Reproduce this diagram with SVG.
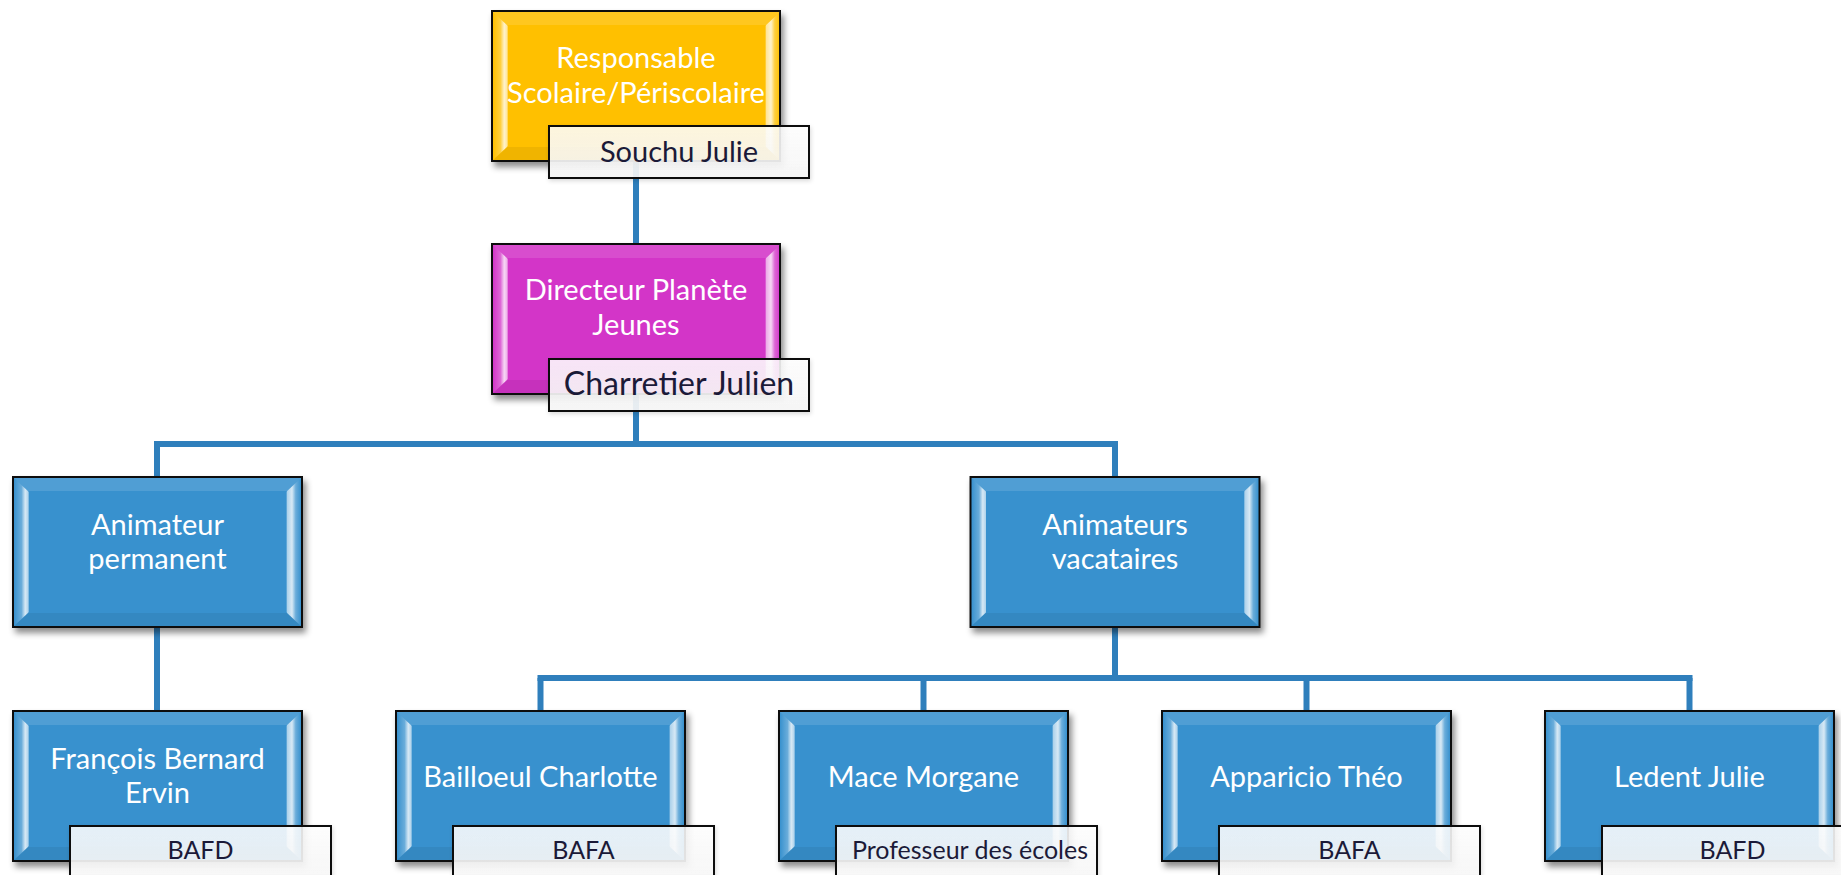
<svg xmlns="http://www.w3.org/2000/svg" width="1841" height="875" viewBox="0 0 1841 875">
<defs>
<style>
.box{stroke:#111;stroke-width:2}
.yel{fill:#FFC000}
.mag{fill:#D334C8}
.blu{fill:#3891CE}
.lbl{fill:url(#lblg);stroke:#111;stroke-width:2}
.t{font-family:Lato,"Open Sans","Liberation Sans",sans-serif;font-size:29px;fill:#fff;text-anchor:middle}
.lt{font-family:Lato,"Open Sans","Liberation Sans",sans-serif;font-size:29px;fill:#1B1A38;text-anchor:middle}
.st{font-family:Lato,"Open Sans","Liberation Sans",sans-serif;font-size:25px;fill:#1B1A38;text-anchor:middle}
.con{stroke:#2F7FBC;stroke-width:6;fill:none;stroke-linecap:butt}
.bl{fill:url(#bevL)}
.br{fill:url(#bevR)}
.bt{fill:#fff;fill-opacity:0.12}
.bb{fill:#000;fill-opacity:0.06}
</style>
<linearGradient id="bevL" x1="0" y1="0" x2="1" y2="0">
<stop offset="0" stop-color="#fff" stop-opacity="0"/>
<stop offset="0.5" stop-color="#fff" stop-opacity="0.25"/>
<stop offset="0.75" stop-color="#fff" stop-opacity="0.8"/>
<stop offset="0.95" stop-color="#fff" stop-opacity="0.6"/>
<stop offset="1" stop-color="#fff" stop-opacity="0"/>
</linearGradient>
<linearGradient id="bevR" x1="0" y1="0" x2="1" y2="0">
<stop offset="0" stop-color="#fff" stop-opacity="0"/>
<stop offset="0.1" stop-color="#fff" stop-opacity="0.6"/>
<stop offset="0.4" stop-color="#fff" stop-opacity="0.8"/>
<stop offset="0.65" stop-color="#fff" stop-opacity="0.25"/>
<stop offset="1" stop-color="#fff" stop-opacity="0"/>
</linearGradient>
<linearGradient id="lblg" x1="0" y1="0" x2="0" y2="1">
<stop offset="0" stop-color="#fff" stop-opacity="0.86"/>
<stop offset="1" stop-color="#f6f6f6" stop-opacity="0.92"/>
</linearGradient>
<filter id="sh" x="-10%" y="-10%" width="125%" height="130%">
<feDropShadow dx="3" dy="5" stdDeviation="3" flood-color="#000" flood-opacity="0.45"/>
</filter>
<filter id="sh2" x="-10%" y="-10%" width="125%" height="140%">
<feDropShadow dx="1" dy="2" stdDeviation="2" flood-color="#000" flood-opacity="0.15"/>
</filter>
<g id="bev">
<polygon class="bt" points="1,1 288,1 274,14 15,14"/>
<polygon class="bb" points="1,149 288,149 274,136 15,136"/>
<polygon class="bl" points="1,1 16,15 16,135 1,149"/>
<polygon class="br" points="288,1 273,15 273,135 288,149"/>
</g>
</defs>
<rect width="1841" height="875" fill="#fff"/>

<g id="connectors">
<line class="con" x1="636" y1="161" x2="636" y2="244"/>
<line class="con" x1="636" y1="393" x2="636" y2="444"/>
<line class="con" x1="154" y1="444" x2="1118" y2="444"/>
<line class="con" x1="157" y1="444" x2="157" y2="477"/>
<line class="con" x1="1115" y1="444" x2="1115" y2="477"/>
<line class="con" x1="157" y1="627" x2="157" y2="711"/>
<line class="con" x1="1115" y1="627" x2="1115" y2="678"/>
<line class="con" x1="537.5" y1="678" x2="1692.5" y2="678"/>
<line class="con" x1="540.5" y1="678" x2="540.5" y2="711"/>
<line class="con" x1="923.5" y1="678" x2="923.5" y2="711"/>
<line class="con" x1="1306.5" y1="678" x2="1306.5" y2="711"/>
<line class="con" x1="1689.5" y1="678" x2="1689.5" y2="711"/>
</g>

<g id="node-responsable">
<rect class="box yel" x="492" y="11" width="288" height="150" filter="url(#sh)"/>
<use href="#bev" x="492" y="11"/>
<text class="t" x="636" y="68">Responsable</text>
<text class="t" x="636" y="103">Scolaire/Périscolaire</text>
<rect class="lbl" x="549" y="126" width="260" height="52" filter="url(#sh2)"/>
<text class="lt" x="679" y="162">Souchu Julie</text>
</g>

<g id="node-directeur">
<rect class="box mag" x="492" y="244" width="288" height="150" filter="url(#sh)"/>
<use href="#bev" x="492" y="244"/>
<text class="t" x="636" y="300">Directeur Planète</text>
<text class="t" x="636" y="335">Jeunes</text>
<rect class="lbl" x="549" y="359" width="260" height="52" filter="url(#sh2)"/>
<text class="lt" x="679" y="395" style="font-size:32px">Charretier Julien</text>
</g>

<g id="node-animateur-permanent">
<rect class="box blu" x="13" y="477" width="289" height="150" filter="url(#sh)"/>
<use href="#bev" x="13" y="477"/>
<text class="t" x="157.5" y="535">Animateur</text>
<text class="t" x="157.5" y="569">permanent</text>
</g>

<g id="node-animateurs-vacataires">
<rect class="box blu" x="970.5" y="477" width="289" height="150" filter="url(#sh)"/>
<use href="#bev" x="970.5" y="477"/>
<text class="t" x="1115" y="535">Animateurs</text>
<text class="t" x="1115" y="569">vacataires</text>
</g>

<g id="node-francois">
<rect class="box blu" x="13" y="711" width="289" height="150" filter="url(#sh)"/>
<use href="#bev" x="13" y="711"/>
<text class="t" x="157.5" y="769">François Bernard</text>
<text class="t" x="157.5" y="803">Ervin</text>
<rect class="lbl" x="70" y="826" width="261" height="60" filter="url(#sh2)"/>
<text class="st" x="200.5" y="859">BAFD</text>
</g>

<g id="node-bailloeul">
<rect class="box blu" x="396" y="711" width="289" height="150" filter="url(#sh)"/>
<use href="#bev" x="396" y="711"/>
<text class="t" x="540.5" y="787">Bailloeul Charlotte</text>
<rect class="lbl" x="453" y="826" width="261" height="60" filter="url(#sh2)"/>
<text class="st" x="583.5" y="859">BAFA</text>
</g>

<g id="node-mace">
<rect class="box blu" x="779" y="711" width="289" height="150" filter="url(#sh)"/>
<use href="#bev" x="779" y="711"/>
<text class="t" x="923.5" y="787">Mace Morgane</text>
<rect class="lbl" x="836" y="826" width="261" height="60" filter="url(#sh2)"/>
<text class="st" x="970" y="859">Professeur des écoles</text>
</g>

<g id="node-apparicio">
<rect class="box blu" x="1162" y="711" width="289" height="150" filter="url(#sh)"/>
<use href="#bev" x="1162" y="711"/>
<text class="t" x="1306.5" y="787">Apparicio Théo</text>
<rect class="lbl" x="1219" y="826" width="261" height="60" filter="url(#sh2)"/>
<text class="st" x="1349.5" y="859">BAFA</text>
</g>

<g id="node-ledent">
<rect class="box blu" x="1545" y="711" width="289" height="150" filter="url(#sh)"/>
<use href="#bev" x="1545" y="711"/>
<text class="t" x="1689.5" y="787">Ledent Julie</text>
<rect class="lbl" x="1602" y="826" width="261" height="60" filter="url(#sh2)"/>
<text class="st" x="1732.5" y="859">BAFD</text>
</g>
</svg>
